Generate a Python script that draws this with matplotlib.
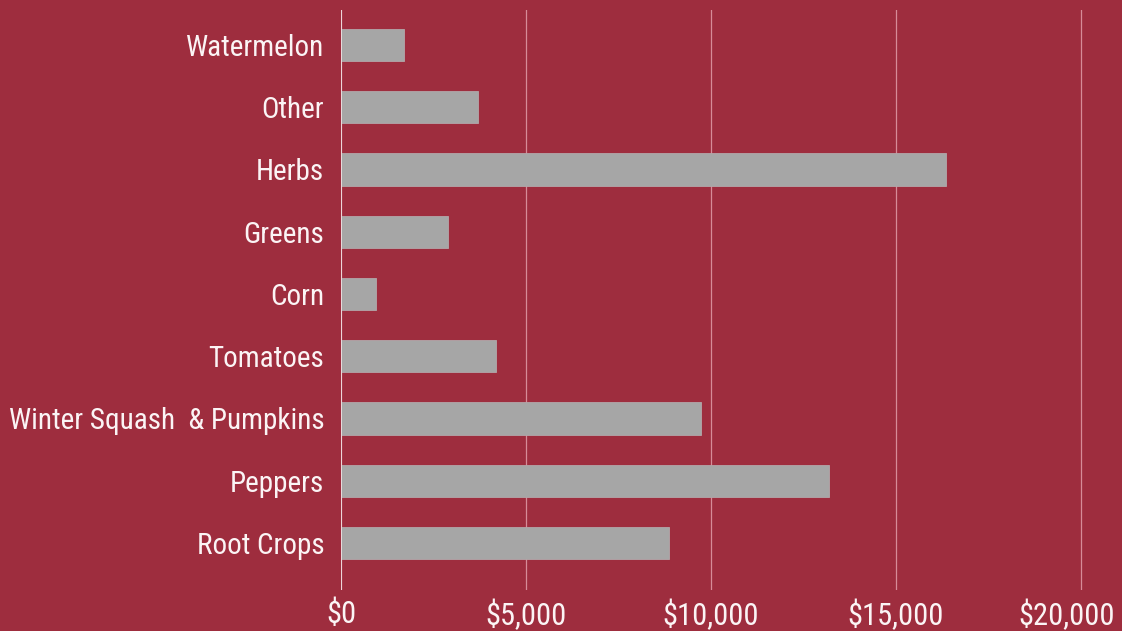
import matplotlib
matplotlib.use("Agg")
import matplotlib.pyplot as plt
from matplotlib.ticker import FuncFormatter
from matplotlib.transforms import ScaledTranslation

# Sales by crop category (USD), listed bottom to top
categories = ["Root Crops", "Peppers", "Winter Squash  & Pumpkins", "Tomatoes",
              "Corn", "Greens", "Herbs", "Other", "Watermelon"]
sales = [8860, 13200, 9720, 4200, 950, 2900, 16350, 3700, 1700]
x_ticks = [0, 5000, 10000, 15000, 20000]

BG = "#9E2D3E"
BAR = "#A6A6A6"
GRID = "#D68C98"
TEXT = "#FBF4F5"

plt.rcParams["font.family"] = ["Roboto Condensed", "Roboto", "DejaVu Sans"]
plt.rcParams["font.style"] = "normal"
plt.rcParams["font.weight"] = "normal"

fig = plt.figure(figsize=(11.22, 6.31), dpi=100, facecolor=BG)
ax = fig.add_axes([341 / 1122, 1 - 590 / 631, 742 / 1122, 580 / 631])
ax.set_facecolor(BG)

ypos = list(range(len(categories)))
ax.barh(ypos, sales, height=0.52, color=BAR, edgecolor="#B3A7A9",
        linewidth=0.6, zorder=3)

ax.set_xlim(0, 20000 * 742 / 740)
ax.set_ylim(-0.755, len(categories) - 1 + 0.562)
ax.set_xticks(x_ticks)
ax.xaxis.set_major_formatter(FuncFormatter(lambda v, p: f"${v:,.0f}"))
ax.set_yticks(ypos)
ax.set_yticklabels(categories)

ax.grid(axis="x", color=GRID, linewidth=0.9, zorder=0)
ax.axvline(0, color="#F2E4E6", linewidth=1.2, zorder=4)
for s in ax.spines.values():
    s.set_visible(False)

ax.tick_params(axis="both", length=0, colors=TEXT)
ax.tick_params(axis="y", pad=12, labelsize=21)
ax.tick_params(axis="x", pad=7, labelsize=22)

# keep the last dollar label inside the figure edge
xlabels = ax.get_xticklabels()
xlabels[-1].set_transform(xlabels[-1].get_transform()
                          + ScaledTranslation(-10 / 72, 0, fig.dpi_scale_trans))

fig.savefig("out.png", dpi=100, facecolor=BG)
